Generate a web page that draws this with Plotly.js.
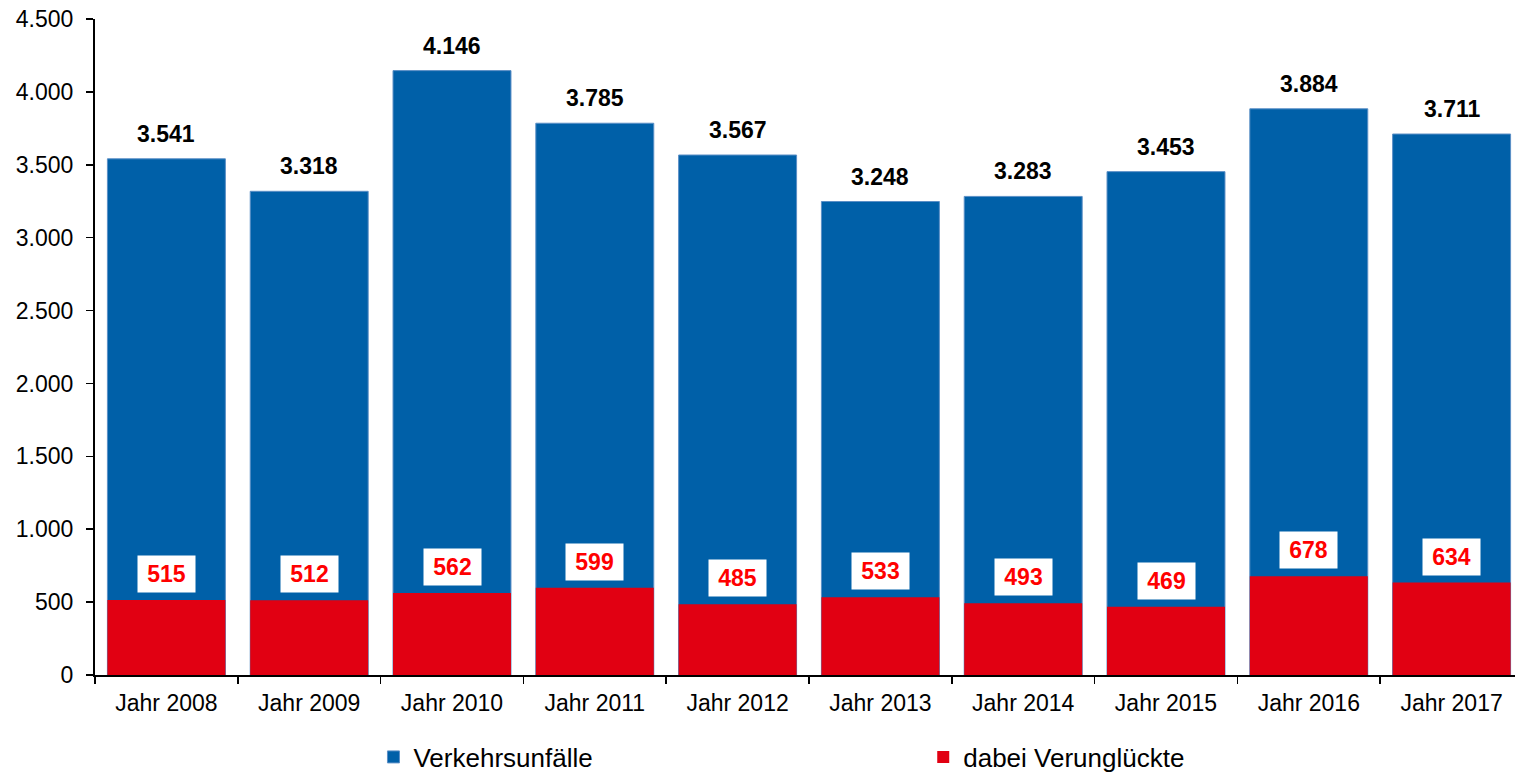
<!DOCTYPE html>
<html>
<head>
<meta charset="utf-8">
<script src="https://cdn.plot.ly/plotly-3.0.1.min.js"></script>
<style>
html,body{margin:0;padding:0;overflow:hidden;background:#fff;}
#chart{width:1525px;height:773px;}
</style>
</head>
<body>
<div id="chart"></div>
<script>
const categories = ["Jahr 2008","Jahr 2009","Jahr 2010","Jahr 2011","Jahr 2012","Jahr 2013","Jahr 2014","Jahr 2015","Jahr 2016","Jahr 2017"];
const unfaelle = [3541,3318,4146,3785,3567,3248,3283,3453,3884,3711];
const verunglueckte = [515,512,562,599,485,533,493,469,678,634];
const yTickVals = [0,500,1000,1500,2000,2500,3000,3500,4000,4500];
const yTickText = ["0","500","1.000","1.500","2.000","2.500","3.000","3.500","4.000","4.500"];

function fmt(n){ return n.toString().replace(/\B(?=(\d{3})+(?!\d))/g, "."); }

const FONT = "Liberation Sans, Arial, sans-serif";

const traces = [
  {type:"bar", name:"Verkehrsunfälle", x:categories, y:unfaelle, legend:"legend",
   marker:{color:"#0060A8", line:{color:"#5B8FC6", width:1}}, hoverinfo:"skip"},
  {type:"bar", name:"dabei Verunglückte", x:categories, y:verunglueckte, legend:"legend2",
   marker:{color:"#E10012", line:{width:0}}, hoverinfo:"skip"}
];

const annotations = [];
categories.forEach((c,i)=>{
  annotations.push({x:c, y:unfaelle[i], xref:"x", yref:"y", text:"<b>"+fmt(unfaelle[i])+"</b>",
    showarrow:false, yanchor:"bottom", yshift:10, font:{family:FONT, size:23, color:"#000"}});
  annotations.push({x:c, y:verunglueckte[i], xref:"x", yref:"y", text:"<b>"+fmt(verunglueckte[i])+"</b>",
    showarrow:false, yanchor:"bottom", yshift:7, bgcolor:"#fff", borderpad:3, width:51, height:30,
    font:{family:FONT, size:23, color:"#FF0000"}});
});

const legendCommon = {orientation:"h", yanchor:"middle", y:-0.125, xanchor:"left",
  font:{family:FONT, size:26, color:"#000"}, itemwidth:30, bgcolor:"rgba(0,0,0,0)"};

const layout = {
  width:1525, height:773,
  margin:{l:95, r:2, t:19, b:98, autoexpand:false},
  paper_bgcolor:"#fff", plot_bgcolor:"#fff",
  barmode:"overlay", bargap:0.174,
  font:{family:FONT, size:23, color:"#000"},
  xaxis:{type:"category", showline:true, linecolor:"#000", linewidth:2,
    ticks:"outside", tickson:"boundaries", ticklen:7, tickwidth:1.5, tickcolor:"#000", ticklabelstandoff:6,
    tickfont:{family:FONT, size:23, color:"#000"}, showgrid:false, zeroline:false, fixedrange:true, automargin:false},
  yaxis:{range:[0,4500], tickvals:yTickVals, ticktext:yTickText, showline:true, linecolor:"#000", linewidth:2,
    ticks:"outside", ticklen:7, tickwidth:1.5, tickcolor:"#000", showgrid:false, zeroline:false, ticklabelstandoff:8,
    tickfont:{family:FONT, size:23, color:"#000"}, fixedrange:true, automargin:false},
  showlegend:true,
  legend:Object.assign({}, legendCommon, {x:0.195}),
  legend2:Object.assign({}, legendCommon, {x:0.580}),
  annotations:annotations
};

Plotly.newPlot("chart", traces, layout, {displayModeBar:false, staticPlot:true});
</script>
</body>
</html>
